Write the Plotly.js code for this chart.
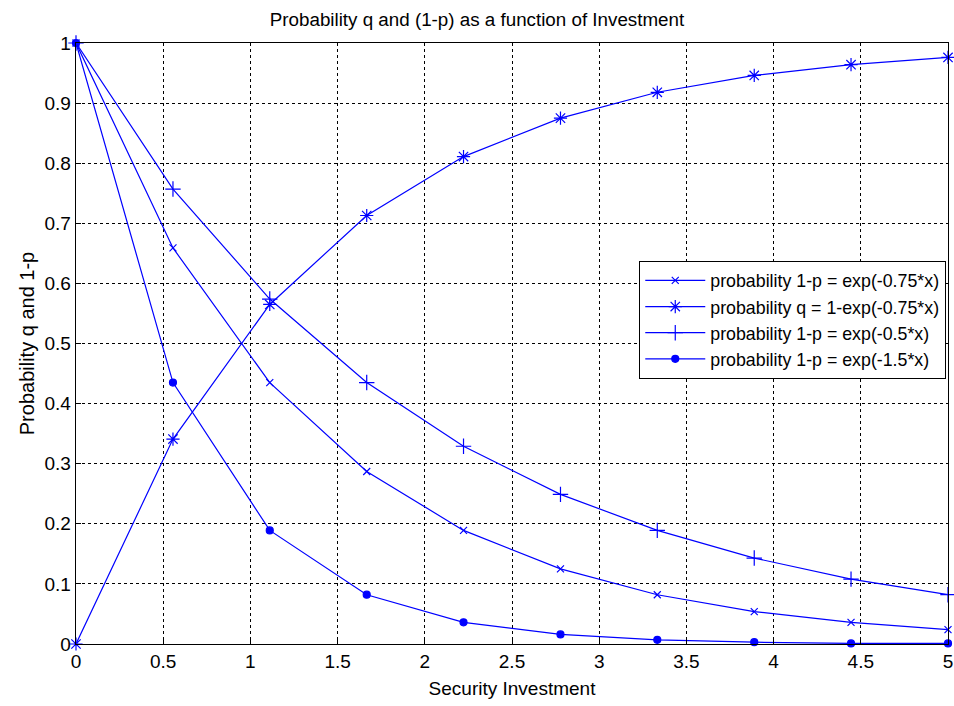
<!DOCTYPE html>
<html>
<head>
<meta charset="utf-8">
<script src="https://cdn.plot.ly/plotly-3.0.1.min.js"></script>
<style>html,body{margin:0;padding:0;background:#fff;}#chart{width:954px;height:706px;}</style>
</head>
<body>
<div id="chart"></div>
<script>
const investment = [0, 0.556, 1.111, 1.667, 2.222, 2.778, 3.333, 3.889, 4.444, 5.0];
const pExp075 = [1, 0.659, 0.435, 0.287, 0.189, 0.125, 0.082, 0.054, 0.036, 0.024];
const qExp075 = [0, 0.341, 0.565, 0.713, 0.811, 0.875, 0.918, 0.946, 0.964, 0.976];
const pExp05 = [1, 0.757, 0.574, 0.435, 0.329, 0.249, 0.189, 0.143, 0.108, 0.082];
const pExp15 = [1, 0.435, 0.189, 0.082, 0.036, 0.016, 0.007, 0.003, 0.001, 0.001];
const seriesNames = [
  "probability 1-p = exp(-0.75*x)",
  "probability q = 1-exp(-0.75*x)",
  "probability 1-p = exp(-0.5*x)",
  "probability 1-p = exp(-1.5*x)"
];
const xTicks = [0, 0.5, 1, 1.5, 2, 2.5, 3, 3.5, 4, 4.5, 5];
const yTicks = [0, 0.1, 0.2, 0.3, 0.4, 0.5, 0.6, 0.7, 0.8, 0.9, 1];

const blue = "#0000ff";
const font = "Liberation Sans, Arial, sans-serif";
function tr(y, name, sym, size) {
  return {
    x: investment, y: y, name: name, type: "scatter", mode: "lines+markers",
    line: {color: blue, width: 1.2},
    marker: {symbol: sym, size: size, color: blue, line: {color: blue, width: 1.2}},
    cliponaxis: false
  };
}
const data = [
  tr(pExp075, seriesNames[0], "x-thin-open", 7),
  tr(qExp075, seriesNames[1], "asterisk-open", 11),
  tr(pExp05, seriesNames[2], "cross-thin-open", 11),
  tr(pExp15, seriesNames[3], "circle", 7)
];
const axisCommon = {
  showline: true, mirror: true, linecolor: "#000", linewidth: 1.3,
  ticks: "inside", ticklen: 5, tickcolor: "#000", automargin: false,
  showgrid: true, gridcolor: "#000", griddash: "dot", gridwidth: 1,
  zeroline: false, tickfont: {family: font, size: 19, color: "#000"}
};
const layout = {
  width: 954, height: 706,
  margin: {l: 76, r: 6, t: 43, b: 62},
  paper_bgcolor: "#fff", plot_bgcolor: "#fff",
  font: {family: font, color: "#000"},
  title: {text: "Probability q and (1-p) as a function of Investment", font: {family: font, size: 18.8, color: "#000"},
          x: 0.5, xanchor: "center", y: 0.973, yanchor: "middle", automargin: false},
  xaxis: Object.assign({}, axisCommon, {range: [0, 5], tickvals: xTicks, ticktext: xTicks.map(String),
          title: {text: "Security Investment", font: {family: font, size: 19, color: "#000"}, standoff: 10}}),
  yaxis: Object.assign({}, axisCommon, {range: [0, 1], tickvals: yTicks, ticktext: yTicks.map(String),
          title: {text: "Probability q and 1-p", font: {family: font, size: 20, color: "#000"}, standoff: 4}}),
  showlegend: true,
  legend: {x: 0.6456, y: 0.539, xanchor: "left", yanchor: "middle", bgcolor: "#fff",
           bordercolor: "#000", borderwidth: 1.3, font: {family: font, size: 17.8, color: "#000"},
           tracegroupgap: 0, itemwidth: 60}
};
Plotly.newPlot("chart", data, layout, {staticPlot: true, displayModeBar: false});
</script>
</body>
</html>
